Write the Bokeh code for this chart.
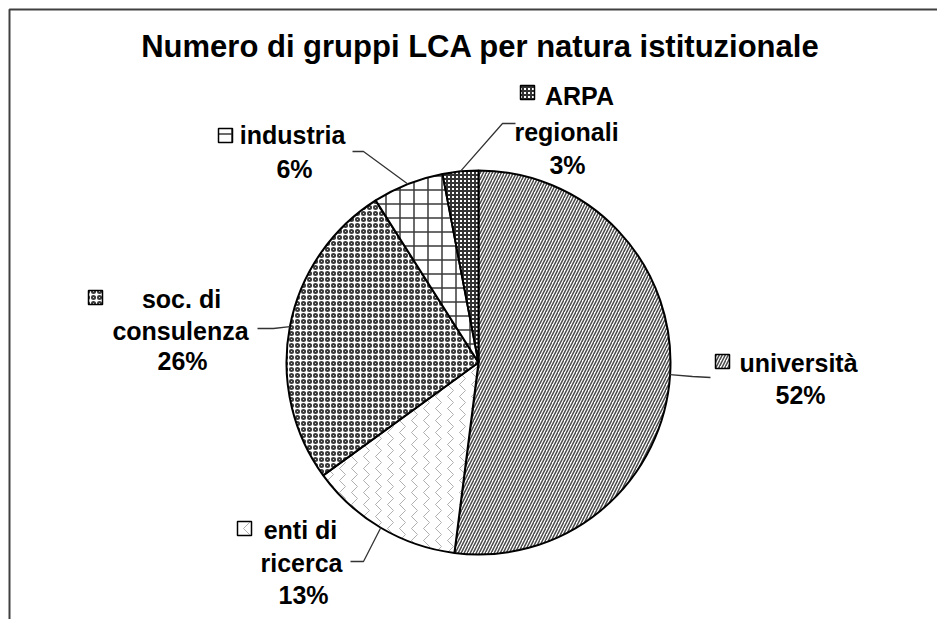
import numpy as np
from bokeh.plotting import figure
from bokeh.models import ColumnDataSource, Range1d
from bokeh.core.properties import value
from bokeh.embed import file_html
from bokeh.resources import INLINE

# ---- data ----
title = "Numero di gruppi LCA per natura istituzionale"
categories = ["università", "enti di ricerca", "soc. di consulenza", "industria", "ARPA regionali"]
shares = [52, 13, 26, 6, 3]
label_lines = [["università"], ["enti di", "ricerca"], ["soc. di", "consulenza"], ["industria"], ["ARPA", "regionali"]]

# ---- styles ----
hatch_patterns = ["/", ">", "o", "+", "+"]
hatch_colors = ["#4a4a4a", "#b0b0b0", "#3a3a3a", "#3a3a3a", "#333333"]
hatch_scales = [6, 12, 6, 14, 4]
hatch_weights = [1.5, 1.0, 2.0, 1.5, 2.0]

W, H = 937, 619
def dx(X):
    return X
def dy(Y):
    return H - Y

# layout (page pixel coordinates)
CX, CY, R = 478, 362, 192
key_pos = [(722, 361), (244, 528), (95, 297), (225, 135), (527, 92)]
line_pos = [[(798, 362)], [(300, 529), (301, 562)], [(181, 298), (180, 330)], [(292, 134)], [(579, 95), (566, 131)]]
pct_pos = [(800, 394), (303, 594), (182, 360), (294, 168), (567, 164)]
leader_pts = [[(692, 376), (710, 377)], [(363, 561), (350, 561)], [(273, 328), (257, 328)],
              [(363, 151), (352, 151)], [(502, 123), (515, 123)]]

p = figure(width=W, height=H, output_backend="svg", toolbar_location=None,
           x_range=Range1d(0, W), y_range=Range1d(0, H), min_border=0)
p.axis.visible = False
p.grid.visible = False
p.outline_line_color = None
p.background_fill_color = "white"
p.border_fill_color = "white"

total = float(sum(shares))
fr = np.array(shares) / total
cum = np.concatenate([[0], np.cumsum(fr)])
start = np.pi / 2 - 2 * np.pi * cum[:-1]
end = np.pi / 2 - 2 * np.pi * cum[1:]

src = ColumnDataSource(dict(
    x=[dx(CX)] * len(shares), y=[dy(CY)] * len(shares),
    start=start, end=end,
    hp=hatch_patterns, hc=hatch_colors, hs=hatch_scales, hw=hatch_weights,
))
p.wedge(x="x", y="y", radius=R, start_angle="start", end_angle="end", direction="clock",
        source=src, fill_color="white", line_color="black", line_width=2,
        hatch_pattern="hp", hatch_color="hc", hatch_scale="hs", hatch_weight="hw")

# legend keys
ksrc = ColumnDataSource(dict(
    x=[dx(k[0]) for k in key_pos], y=[dy(k[1]) for k in key_pos],
    hp=hatch_patterns, hc=hatch_colors, hs=hatch_scales, hw=hatch_weights,
))
p.rect(x="x", y="y", width=14, height=14, source=ksrc, fill_color="white",
       line_color="black", line_width=1.5,
       hatch_pattern="hp", hatch_color="hc", hatch_scale="hs", hatch_weight="hw")

# leaders
mid = 2 * np.pi * (cum[:-1] + cum[1:]) / 2
for i in range(len(shares)):
    ex = CX + R * np.sin(mid[i])
    ey = CY - R * np.cos(mid[i])
    pts = [(ex, ey)] + leader_pts[i]
    p.line([dx(a) for a, b in pts], [dy(b) for a, b in pts], line_color="#333333", line_width=1.3)

# labels
tx, ty, tt = [], [], []
for i in range(len(shares)):
    for (X, Y), s in zip(line_pos[i], label_lines[i]):
        tx.append(dx(X)); ty.append(dy(Y)); tt.append(s)
    tx.append(dx(pct_pos[i][0])); ty.append(dy(pct_pos[i][1])); tt.append(f"{shares[i]}%")
p.text(x=tx, y=ty, text=tt, text_font=value("Liberation Sans"), text_font_style="bold",
       text_font_size="25px", text_align="center", text_baseline="middle", text_color="black")

# title
p.text(x=[dx(480)], y=[dy(46)], text=[title], text_font=value("Liberation Sans"),
       text_font_style="bold", text_font_size="31px", text_align="center",
       text_baseline="middle", text_color="black")

# frame (left and top edges)
p.line([dx(9), dx(9), dx(W)], [dy(H), dy(9), dy(9)], line_color="#404040", line_width=2)

open("out.html", "w").write(file_html(p, INLINE))
